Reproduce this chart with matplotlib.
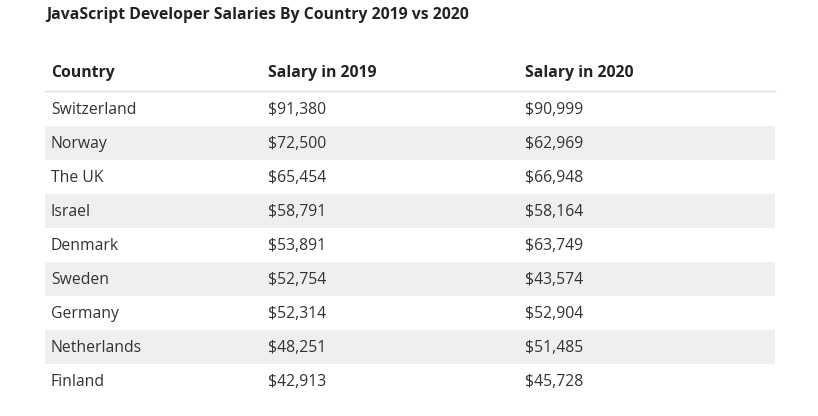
import matplotlib.pyplot as plt
from matplotlib.patches import Rectangle

title = "JavaScript Developer Salaries By Country 2019 vs 2020"
headers = ["Country", "Salary in 2019", "Salary in 2020"]
countries = ["Switzerland", "Norway", "The UK", "Israel", "Denmark",
             "Sweden", "Germany", "Netherlands", "Finland"]
salary_2019 = [91380, 72500, 65454, 58791, 53891, 52754, 52314, 48251, 42913]
salary_2020 = [90999, 62969, 66948, 58164, 63749, 43574, 52904, 51485, 45728]

plt.rcParams['font.family'] = ['Open Sans', 'DejaVu Sans']

fig = plt.figure(figsize=(8.18, 4.16), dpi=100)
ax = fig.add_axes([0, 0, 1, 1])
ax.set_xlim(0, 818)
ax.set_ylim(416, 0)
ax.axis('off')

col_x = [51, 268, 525]
left, right = 45, 775
row_top = 92
row_h = 34
fs = 11.3

ax.text(46, 15, title, fontsize=fs, fontweight='bold', color='#222222', va='center')

for x, h in zip(col_x, headers):
    ax.text(x, 73, h, fontsize=fs, fontweight='bold', color='#222222', va='center')
ax.plot([left, right], [row_top - 1, row_top - 1], color='#e2e2e2', lw=1)

for i, c in enumerate(countries):
    y0 = row_top + i * row_h
    if i % 2 == 1:
        ax.add_patch(Rectangle((left, y0), right - left, row_h, color='#efefef', lw=0))
    yc = y0 + row_h / 2 + 1.5
    ax.text(col_x[0], yc, c, fontsize=fs, color='#333333', va='center')
    ax.text(col_x[1], yc, f"${salary_2019[i]:,}", fontsize=fs, color='#333333', va='center')
    ax.text(col_x[2], yc, f"${salary_2020[i]:,}", fontsize=fs, color='#333333', va='center')

fig.savefig('out.png', dpi=100)
